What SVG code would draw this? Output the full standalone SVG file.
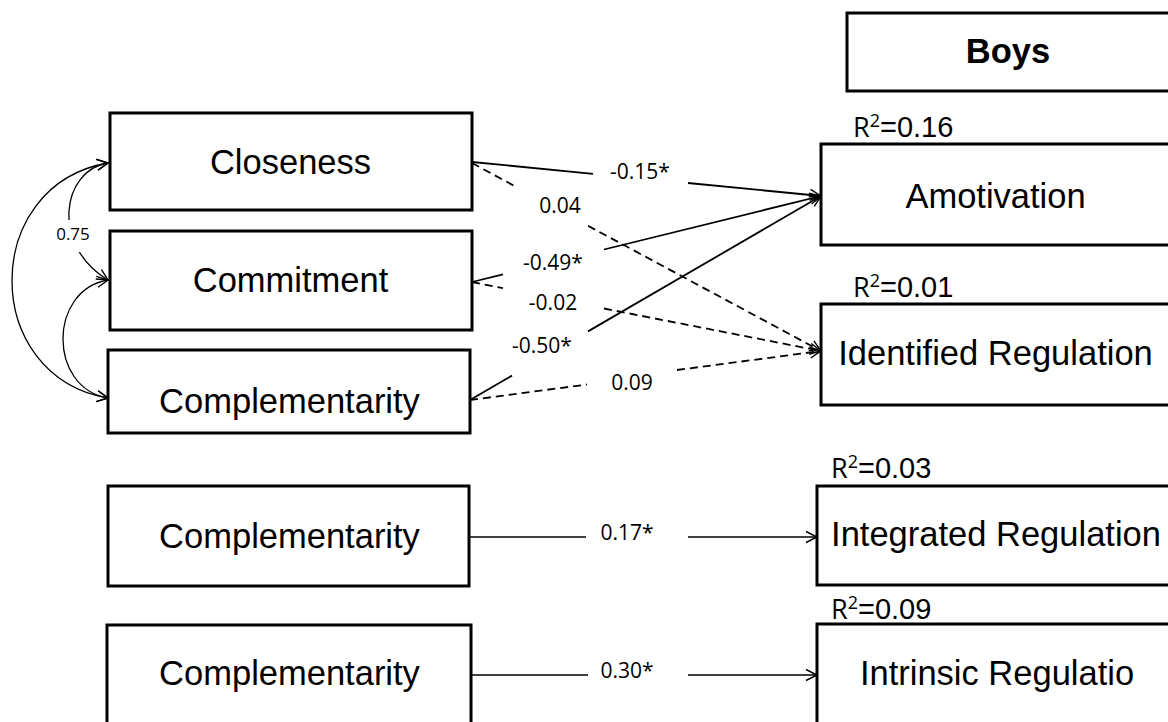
<svg xmlns="http://www.w3.org/2000/svg" width="1168" height="722" viewBox="0 0 1168 722">
<defs>
<style>
.box{fill:#fff;stroke:#000;stroke-width:3}
.nt{font-family:"Liberation Sans",Arial,sans-serif;font-size:34.5px;text-anchor:middle;fill:#000}
.bold{font-weight:bold}
.el{font-family:"Open Sans","Liberation Sans",sans-serif;font-size:21px;text-anchor:middle;fill:#000}
.r2{font-family:"Liberation Sans",Arial,sans-serif;font-size:29px;fill:#000}
.r2r{font-family:"Open Sans","Liberation Sans",sans-serif;font-size:27px}
.sup{font-family:"Open Sans","Liberation Sans",sans-serif;font-size:18px}
.ln{fill:none;stroke:#000;stroke-width:1.8}
.dash{stroke-dasharray:8 5}
.thin{fill:none;stroke:#000;stroke-width:1.3}
</style>
<marker id="arr" markerUnits="userSpaceOnUse" markerWidth="16" markerHeight="16" viewBox="-14 -8 16 16" refX="0" refY="0" orient="auto-start-reverse">
<path d="M-11,-5.5 L0,0 L-11,5.5" fill="none" stroke="#000" stroke-width="1.4"/>
</marker>
</defs>
<rect width="1168" height="722" fill="#fff"/>

<g id="connectors">
<path class="ln" d="M472,162 L593,173.8"/>
<path class="ln" d="M688,183 L821,196" marker-end="url(#arr)"/>
<path class="ln dash" d="M472,163 L515,186.3"/>
<path class="ln dash" d="M588,225.8 L821,351" marker-end="url(#arr)"/>
<path class="ln" d="M472,282 L503,274.4"/>
<path class="ln" d="M604,249.5 L821,196" marker-end="url(#arr)"/>
<path class="ln dash" d="M472,282 L503,288.2"/>
<path class="ln dash" d="M604,308.5 L821,351" marker-end="url(#arr)"/>
<path class="ln" d="M470,400 L512,375.6"/>
<path class="ln" d="M588,331.4 L821,196" marker-end="url(#arr)"/>
<path class="ln dash" d="M470,400 L587,384.5"/>
<path class="ln dash" d="M677,370 L821,351" marker-end="url(#arr)"/>
<path class="thin" d="M470,537 L586,537"/>
<path class="thin" d="M688,537 L817,537" marker-end="url(#arr)"/>
<path class="thin" d="M471,675 L588,675"/>
<path class="thin" d="M688,675 L817,675" marker-end="url(#arr)"/>
<path class="thin" d="M108,163 C-20,185 -20,376 108,398" marker-start="url(#arr)" marker-end="url(#arr)"/>
<path class="thin" d="M108,163 C62,170 50,245 108,280" marker-start="url(#arr)" marker-end="url(#arr)"/>
<rect x="52" y="220" width="44" height="32" fill="#fff"/>
<path class="thin" d="M108,280 C48,290 48,388 108,398" marker-start="url(#arr)" marker-end="url(#arr)"/>
<text class="el" x="640" y="179">-0.15*</text>
<text class="el" x="560" y="213">0.04</text>
<text class="el" x="553" y="270">-0.49*</text>
<text class="el" x="553" y="310">-0.02</text>
<text class="el" x="542" y="353">-0.50*</text>
<text class="el" x="632" y="390">0.09</text>
<text class="el" x="627" y="540">0.17*</text>
<text class="el" x="627" y="678">0.30*</text>
<text class="el" x="73" y="240" style="font-size:17px">0.75</text>
</g>

<g id="closeness"><rect class="box" x="110" y="113" width="362" height="97"/><text class="nt" x="290.5" y="174">Closeness</text></g>
<g id="commitment"><rect class="box" x="110" y="231" width="362" height="99"/><text class="nt" x="290.5" y="292">Commitment</text></g>
<g id="complementarity1"><rect class="box" x="108" y="350" width="362" height="83"/><text class="nt" x="289.5" y="413">Complementarity</text></g>
<g id="complementarity2"><rect class="box" x="108" y="486" width="361" height="100"/><text class="nt" x="289.5" y="548">Complementarity</text></g>
<g id="complementarity3"><rect class="box" x="107" y="625" width="364" height="110"/><text class="nt" x="289.5" y="685">Complementarity</text></g>

<g id="boys"><rect class="box" x="847" y="13" width="330" height="78"/><text class="nt bold" x="1008" y="63">Boys</text></g>
<g id="amotivation"><rect class="box" x="821" y="144" width="360" height="101"/><text class="nt" x="995.5" y="208">Amotivation</text>
<text class="r2" x="853" y="137"><tspan class="r2r">R</tspan><tspan class="sup" dy="-10">2</tspan><tspan dy="10">=0.16</tspan></text></g>
<g id="identified"><rect class="box" x="821" y="304" width="360" height="101"/><text class="nt" x="995.5" y="365">Identified Regulation</text>
<text class="r2" x="853" y="297"><tspan class="r2r">R</tspan><tspan class="sup" dy="-10">2</tspan><tspan dy="10">=0.01</tspan></text></g>
<g id="integrated"><rect class="box" x="817" y="486" width="360" height="99"/><text class="nt" x="996" y="546">Integrated Regulation</text>
<text class="r2" x="831" y="478"><tspan class="r2r">R</tspan><tspan class="sup" dy="-10">2</tspan><tspan dy="10">=0.03</tspan></text></g>
<g id="intrinsic"><rect class="box" x="817" y="624" width="360" height="110"/><text class="nt" x="997" y="685">Intrinsic Regulatio</text>
<text class="r2" x="831" y="619"><tspan class="r2r">R</tspan><tspan class="sup" dy="-10">2</tspan><tspan dy="10">=0.09</tspan></text></g>
</svg>
